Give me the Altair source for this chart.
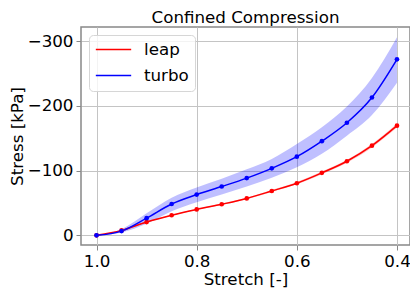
import altair as alt
import pandas as pd

stretch = [1.0, 0.95, 0.9, 0.85, 0.8, 0.75, 0.7, 0.65, 0.6, 0.55, 0.5, 0.45, 0.4]

leap_stress = [0, -7.5, -20.5, -31, -40, -48, -57, -68.5, -80.5, -96.5, -114.5, -138.5, -169.5]
leap_lo = [0, -7.2, -19.8, -30.2, -39, -46.8, -55.8, -67, -78.8, -94.5, -112.2, -135.8, -166.5]
leap_hi = [0, -7.8, -21.2, -31.8, -41, -49.2, -58.2, -70, -82.2, -98.5, -116.8, -141.2, -172.5]

turbo_stress = [0, -6.5, -26.5, -48.4, -63, -75.4, -88.4, -103.5, -121.5, -145.5, -174, -213, -272]
turbo_lo = [0, -4.5, -18, -37, -51, -63, -75.5, -89, -105, -126, -154, -186, -236]
turbo_hi = [0, -9.5, -34, -58, -74, -87.5, -102, -118, -141, -167, -199, -243, -306]

models = ["leap", "turbo"]
colors = ["#ff0000", "#0000ff"]

rows = []
for m, s, lo, hi in [("leap", leap_stress, leap_lo, leap_hi), ("turbo", turbo_stress, turbo_lo, turbo_hi)]:
    for x, v, a, b in zip(stretch, s, lo, hi):
        rows.append({"model": m, "stretch": x, "stress": v, "lo": a, "hi": b})
df = pd.DataFrame(rows)

FONT = "DejaVu Sans"
FS = 16.7

xscale = alt.Scale(domain=[0.374, 1.031], reverse=True, nice=False, zero=False)
yscale = alt.Scale(domain=[-322, 15], reverse=True, nice=False, zero=False)
cscale = alt.Scale(domain=models, range=colors)

legend = alt.Legend(title=None, orient="none", legendX=8, legendY=8,
                    symbolType="stroke", symbolSize=1250, symbolStrokeWidth=1.5,
                    symbolOpacity=1, clipHeight=17,
                    labelFont=FONT, labelFontSize=FS, labelOffset=12,
                    rowPadding=8, padding=6, cornerRadius=4,
                    strokeColor="#d6d6d6", fillColor="rgba(255,255,255,0.8)")
color = alt.Color("model:N", scale=cscale, legend=legend)

xenc = alt.X("stretch:Q", scale=xscale,
             axis=alt.Axis(values=[1.0, 0.8, 0.6, 0.4], format=".1f", title="Stretch [-]",
                           titlePadding=2))
yenc = alt.Y("stress:Q", scale=yscale,
             axis=alt.Axis(values=[0, -100, -200, -300], title="Stress [kPa]", titlePadding=1,
                           labelExpr="datum.value < 0 ? '\u2212' + format(-datum.value, 'd') : format(datum.value, 'd')"))

base = alt.Chart(df)

band = base.mark_area(opacity=0.25, interpolate="monotone").encode(
    x=xenc,
    y=alt.Y("lo:Q", scale=yscale),
    y2="hi:Q",
    color=color,
)

line = base.mark_line(strokeWidth=1.5, interpolate="monotone").encode(
    x=xenc,
    y=yenc,
    color=color,
)

pts = base.mark_circle(size=22, opacity=1).encode(
    x=xenc,
    y=yenc,
    color=color,
)

chart = alt.layer(band, line, pts).properties(
    width=329,
    height=218,
    title=alt.TitleParams("Confined Compression", font=FONT, fontSize=FS, fontWeight="normal",
                          color="black", offset=0, anchor="middle"),
    autosize=alt.AutoSizeParams(type="none"),
    padding={"left": 73, "top": 19, "right": 0, "bottom": 43},
).configure_view(
    stroke="#888888", strokeWidth=1.5
).configure_axis(
    labelFont=FONT, labelFontSize=FS, labelColor="black",
    titleFont=FONT, titleFontSize=FS, titleFontWeight="normal", titleColor="black",
    grid=True, gridColor="#c4c4c4", gridWidth=1,
    domain=False, tickColor="#888888", tickSize=5, tickWidth=1, labelPadding=3,
)

chart.save("out.html", embed_options={"renderer": "svg", "actions": False})
